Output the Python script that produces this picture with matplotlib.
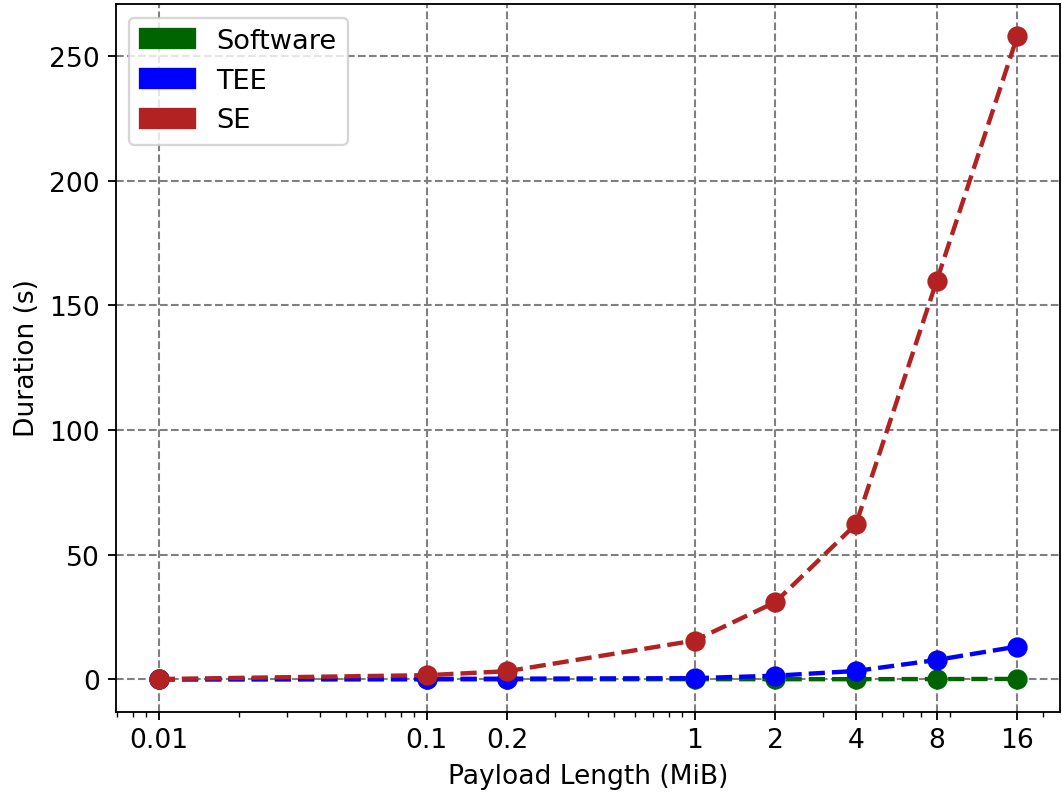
import numpy as np
import matplotlib.pyplot as plt
from matplotlib.patches import Patch

# Datos
payload = [0.01, 0.1, 0.2, 1, 2, 4, 8, 16]  # MiB
software = [0.02, 0.05, 0.05, 0.1, 0.1, 0.1, 0.15, 0.2]
tee = [0.05, 0.2, 0.3, 0.5, 1.5, 3.4, 7.8, 13.2]
se = [0.15, 1.7, 3.3, 15.6, 31.0, 62.3, 159.8, 258.0]
labels = ['0.01', '0.1', '0.2', '1', '2', '4', '8', '16']

colores = {'Software': 'darkgreen', 'TEE': 'blue', 'SE': 'firebrick'}

fig, ax = plt.subplots(figsize=(6.4, 4.8), dpi=166)
fig.subplots_adjust(left=0.109, right=0.998, top=0.994, bottom=0.106)

for nombre, datos in [('Software', software), ('TEE', tee), ('SE', se)]:
    ax.plot(payload, datos, '--o', color=colores[nombre], linewidth=1.9,
            markersize=7.8, zorder=3)

ax.set_xscale('log')
ax.set_xticks(payload)
ax.set_xticklabels(labels)
ax.set_xlabel('Payload Length (MiB)', fontsize=11.5)
ax.set_ylabel('Duration (s)', fontsize=11.5)
ax.tick_params(labelsize=11.5)
ax.grid(True, which='major', linestyle='--', color='gray', linewidth=0.9)

handles = [Patch(color=c, label=n) for n, c in colores.items()]
ax.legend(handles=handles, loc='upper left', fontsize=11.8)

plt.savefig('out.png', dpi=166)
